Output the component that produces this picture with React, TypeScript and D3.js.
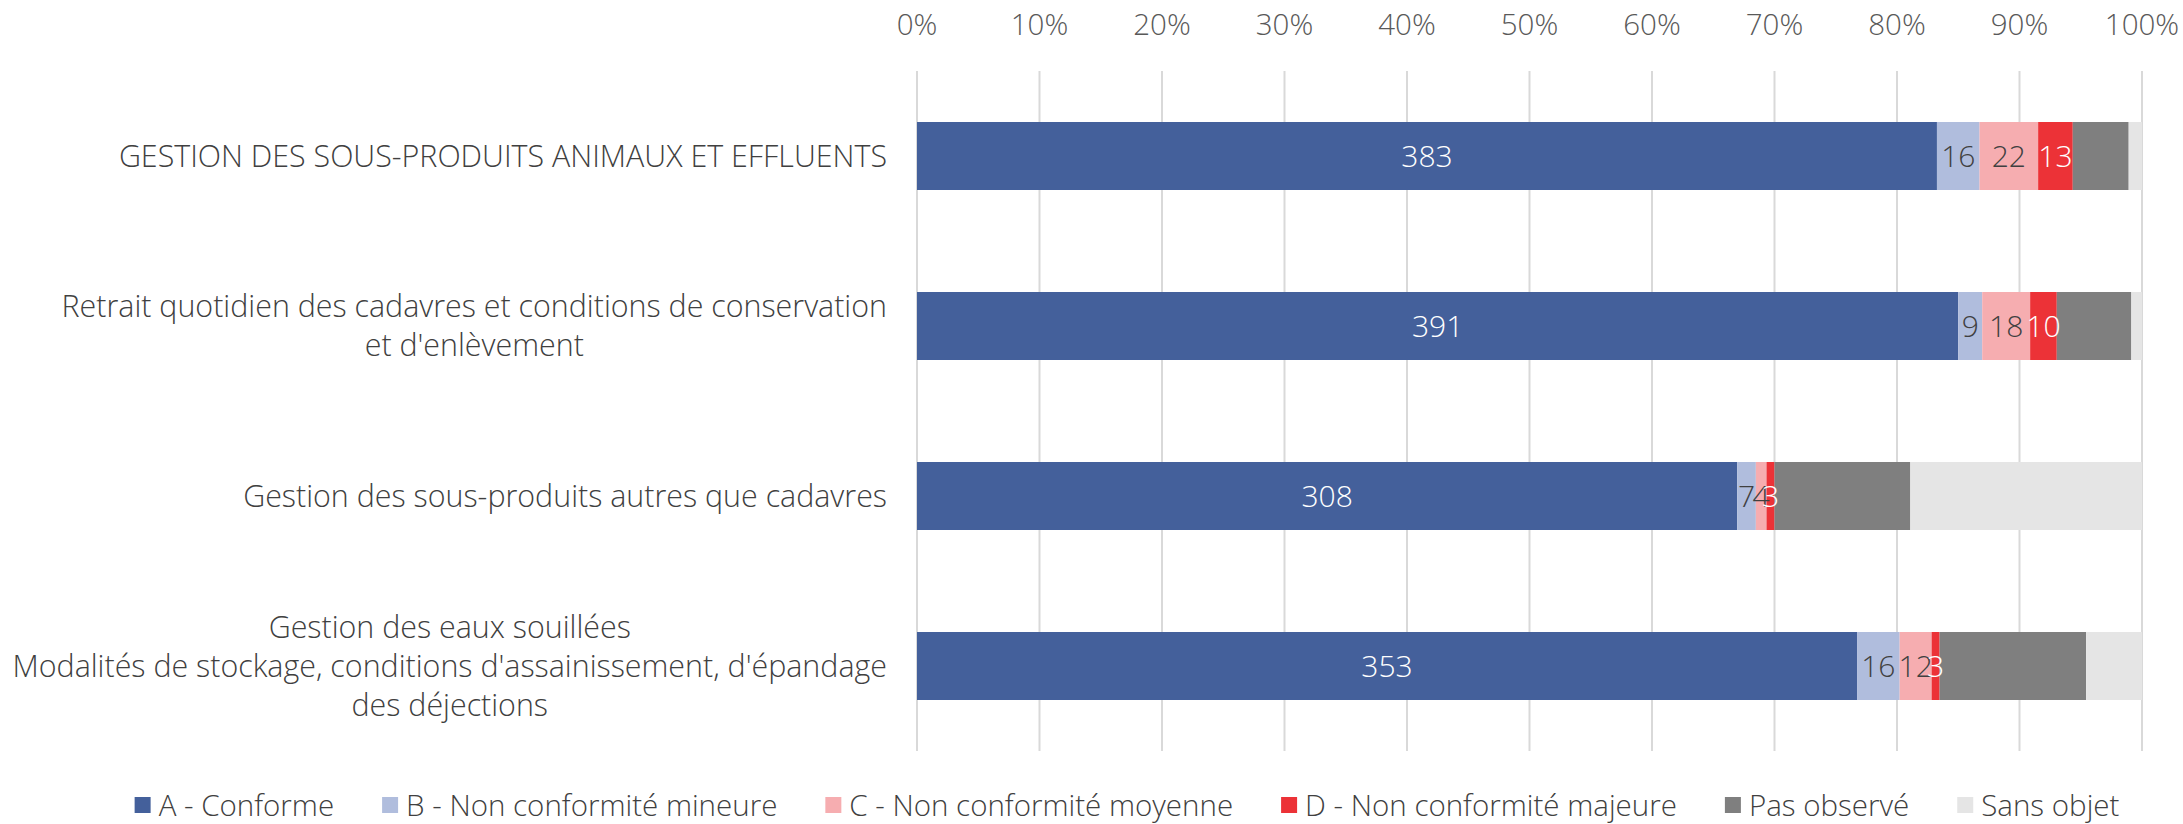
import React, { useEffect, useRef } from 'react';
import * as d3 from 'd3';

const categories = [
    'GESTION DES SOUS-PRODUITS ANIMAUX ET EFFLUENTS',
    "Retrait quotidien des cadavres et conditions de conservation\net d'enlèvement",
    'Gestion des sous-produits autres que cadavres',
    "Gestion des eaux souillées\nModalités de stockage, conditions d'assainissement, d'épandage\ndes déjections",
];

const seriesNames = [
    'A - Conforme',
    'B - Non conformité mineure',
    'C - Non conformité moyenne',
    'D - Non conformité majeure',
    'Pas observé',
    'Sans objet',
];

const conforme = [383, 391, 308, 353];
const mineure = [16, 9, 7, 16];
const moyenne = [22, 18, 4, 12];
const majeure = [13, 10, 3, 3];
const pasObserve = [21, 28, 51, 55];
const sansObjet = [5, 4, 87, 21];

const tickValues = [0, 0.1, 0.2, 0.3, 0.4, 0.5, 0.6, 0.7, 0.8, 0.9, 1];

const colors = ['#44609b', '#b0bddd', '#f6adb0', '#ec3237', '#7f7f7f', '#e5e5e5'];
const labelColors = ['#ffffff', '#404040', '#404040', '#ffffff', null, null];

const FONT = "'Open Sans', sans-serif";
const WIDTH = 2183;
const HEIGHT = 824;

const App: React.FC = () => {
    const ref = useRef<SVGSVGElement | null>(null);

    useEffect(() => {
        if (!ref.current) return;
        const svg = d3.select(ref.current);
        svg.selectAll('*').remove();

        const rows = categories.map((c, i) => ({
            cat: c,
            s0: conforme[i], s1: mineure[i], s2: moyenne[i],
            s3: majeure[i], s4: pasObserve[i], s5: sansObjet[i],
        }));
        const keys = ['s0', 's1', 's2', 's3', 's4', 's5'];
        const stacked = d3.stack<any>().keys(keys).offset(d3.stackOffsetExpand)(rows);

        const x = d3.scaleLinear().domain([0, 1]).range([917, 2142]);
        const y = d3.scaleBand<string>()
            .domain(categories)
            .range([71, 751])
            .paddingInner(0.6)
            .paddingOuter(0.3);

        // grid
        svg.append('g')
            .selectAll('line')
            .data(tickValues)
            .enter().append('line')
            .attr('x1', d => x(d)).attr('x2', d => x(d))
            .attr('y1', 71).attr('y2', 751)
            .attr('stroke', '#d9d9d9')
            .attr('stroke-width', 2);

        svg.append('g')
            .selectAll('text')
            .data(tickValues)
            .enter().append('text')
            .attr('x', d => x(d))
            .attr('y', 35)
            .attr('text-anchor', 'middle')
            .style('font-family', FONT)
            .style('font-weight', 300)
            .style('font-size', '29.5px')
            .style('fill', '#595959')
            .text(d => d3.format('.0%')(d));

        // bars
        const layers = svg.append('g')
            .selectAll('g')
            .data(stacked)
            .enter().append('g')
            .attr('fill', (_d, i) => colors[i]);

        layers.selectAll('rect')
            .data(d => d)
            .enter().append('rect')
            .attr('x', d => x(d[0]))
            .attr('width', d => x(d[1]) - x(d[0]))
            .attr('y', d => y(d.data.cat)!)
            .attr('height', y.bandwidth());

        // value labels
        stacked.forEach((layer, i) => {
            if (!labelColors[i]) return;
            svg.append('g')
                .selectAll('text')
                .data(layer)
                .enter().append('text')
                .attr('x', d => x((d[0] + d[1]) / 2))
                .attr('y', d => y(d.data.cat)! + y.bandwidth() / 2)
                .attr('dy', '0.36em')
                .attr('text-anchor', 'middle')
                .style('font-family', FONT)
                .style('font-weight', 300)
                .style('font-size', '30px')
                .style('fill', labelColors[i] as string)
                .text(d => String(d.data[keys[i]]));
        });

        // category labels
        const lineH = 39;
        categories.forEach(cat => {
            const lines = cat.split('\n');
            const cy = y(cat)! + y.bandwidth() / 2;
            const g = svg.append('g');
            const texts = g.selectAll('text')
                .data(lines)
                .enter().append('text')
                .attr('y', (_d, j) => cy + (j - (lines.length - 1) / 2) * lineH)
                .attr('dy', '0.36em')
                .attr('text-anchor', 'middle')
                .style('font-family', FONT)
                .style('font-weight', 300)
                .style('font-size', '30.4px')
                .style('fill', '#404040')
                .text(d => d);
            const widths: number[] = [];
            texts.each(function () { widths.push((this as SVGTextElement).getComputedTextLength()); });
            const maxW = d3.max(widths) || 0;
            texts.attr('x', 887 - maxW / 2);
        });

        // legend
        const gap = 48;
        const legend = svg.append('g');
        let cx = 0;
        seriesNames.forEach((name, i) => {
            const it = legend.append('g');
            it.append('rect')
                .attr('x', cx).attr('y', 797)
                .attr('width', 16).attr('height', 16)
                .attr('fill', colors[i]);
            const t = it.append('text')
                .attr('x', cx + 24).attr('y', 805)
                .attr('dy', '0.36em')
                .style('font-family', FONT)
                .style('font-weight', 300)
                .style('font-size', '29.5px')
                .style('fill', '#404040')
                .text(name);
            const w = (t.node() as SVGTextElement).getComputedTextLength();
            cx += 24 + w + gap;
        });
        const total = cx - gap;
        legend.attr('transform', `translate(${1127 - total / 2},0)`);
    }, []);

    return (
        <div style={{ position: 'absolute', left: 0, top: 0 }}>
            <svg ref={ref} width={WIDTH} height={HEIGHT} style={{ display: 'block', background: '#fff' }}></svg>
        </div>
    );
};

export default App;
